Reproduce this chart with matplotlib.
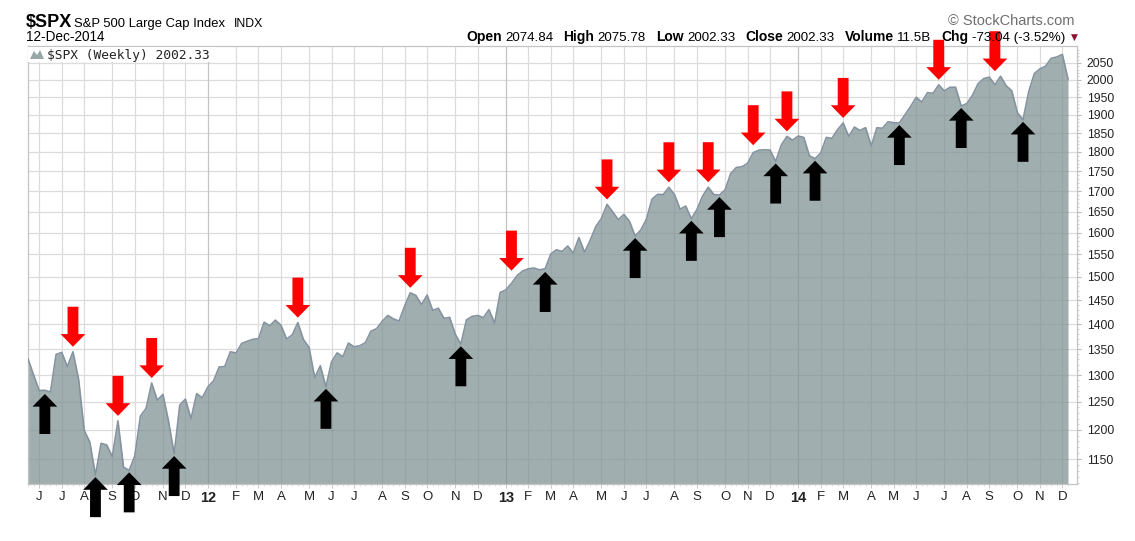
import numpy as np
import pandas as pd
import matplotlib
matplotlib.use('Agg')
import matplotlib.pyplot as plt
from matplotlib import font_manager
from matplotlib.ticker import FixedLocator, NullFormatter
from matplotlib.patches import Polygon, Rectangle

# $SPX weekly closes, 27-May-2011 .. 12-Dec-2014
closes_2011 = [1331.10, 1300.16, 1270.98, 1271.50, 1268.45, 1339.67, 1343.80, 1316.14,
               1345.02, 1292.28, 1199.38, 1178.81, 1123.53, 1176.80, 1173.97, 1154.23,
               1216.01, 1136.43, 1131.42, 1155.46, 1224.58, 1238.25, 1285.09, 1253.23,
               1263.85, 1215.65, 1158.67, 1244.28, 1255.19, 1219.66, 1265.33, 1257.60]
closes_2012 = [1277.81, 1289.09, 1315.38, 1316.33, 1344.90, 1342.64, 1361.23, 1365.74,
               1369.63, 1370.87, 1404.17, 1397.11, 1408.47, 1398.08, 1370.26, 1378.53,
               1403.36, 1369.10, 1353.39, 1295.22, 1317.82, 1278.04, 1325.66, 1342.84,
               1335.02, 1362.16, 1354.68, 1356.78, 1362.66, 1385.97, 1390.99, 1405.87,
               1418.16, 1411.13, 1406.58, 1437.92, 1465.77, 1460.15, 1440.67, 1460.93,
               1428.59, 1433.19, 1411.94, 1414.20, 1379.85, 1359.88, 1409.15, 1416.18,
               1418.07, 1413.58, 1430.15, 1402.43]
closes_2013 = [1466.47, 1472.05, 1485.98, 1502.96, 1513.17, 1517.93, 1519.79, 1515.60,
               1518.20, 1551.18, 1560.70, 1556.89, 1569.19, 1553.28, 1588.85, 1555.25,
               1582.24, 1614.42, 1633.70, 1667.47, 1649.60, 1630.74, 1643.38, 1626.73,
               1592.43, 1606.28, 1631.89, 1680.19, 1692.09, 1691.65, 1709.67, 1691.42,
               1655.83, 1663.50, 1632.97, 1655.17, 1687.99, 1709.91, 1691.75, 1690.50,
               1703.20, 1744.50, 1759.77, 1761.64, 1770.61, 1798.18, 1804.76, 1805.81,
               1805.09, 1775.32, 1818.32, 1841.40]
closes_2014 = [1831.37, 1842.37, 1838.70, 1790.29, 1782.59, 1797.02, 1838.63, 1836.25,
               1859.45, 1878.04, 1841.13, 1866.52, 1857.62, 1865.09, 1815.69, 1864.85,
               1863.40, 1881.14, 1878.48, 1877.86, 1900.53, 1923.57, 1949.44, 1936.16,
               1962.87, 1960.96, 1985.44, 1967.57, 1978.22, 1978.34, 1925.15, 1931.59,
               1955.06, 1988.40, 2003.37, 2007.71, 1985.54, 2010.40, 1982.85, 1967.90,
               1906.13, 1886.76, 1964.58, 2018.05, 2031.92, 2039.82, 2063.50, 2067.56,
               2075.37, 2002.33]

# weeks marked with arrows
red_weeks = ['2011-07-22', '2011-09-16', '2011-10-28', '2012-04-27', '2012-09-14',
             '2013-01-18', '2013-05-17', '2013-08-02', '2013-09-20', '2013-11-15',
             '2013-12-27', '2014-03-07', '2014-07-04', '2014-09-12']
black_weeks = ['2011-06-17', '2011-08-19', '2011-09-30', '2011-11-25', '2012-06-01',
               '2012-11-16', '2013-03-01', '2013-06-21', '2013-08-30', '2013-10-04',
               '2013-12-13', '2014-01-31', '2014-05-16', '2014-08-01', '2014-10-17']

y_ticks = list(range(1150, 2051, 50))
month_letters = ['J', 'F', 'M', 'A', 'M', 'J', 'J', 'A', 'S', 'O', 'N', 'D']
header_labels = ['Open', 'High', 'Low', 'Close', 'Volume', 'Chg']
header_values = ['2074.84', '2075.78', '2002.33', '2002.33', '11.5B', '-73.04 (-3.52%)']

closes = np.array(closes_2011 + closes_2012 + closes_2013 + closes_2014)
weeks = pd.date_range('2011-05-27', periods=len(closes), freq='W-FRI')
x = np.arange(len(closes))

names = {f.name for f in font_manager.fontManager.ttflist}
narrow = 'Liberation Sans Narrow' if 'Liberation Sans Narrow' in names else 'Liberation Sans'
plt.rcParams['font.family'] = ['Liberation Sans', 'DejaVu Sans']

W, H = 1135, 541
fig = plt.figure(figsize=(W / 100, H / 100), dpi=100)
ax = fig.add_axes([28 / W, 1 - 484 / H, (1077 - 28) / W, (484 - 46) / H])

fill_col = (125 / 255, 143 / 255, 145 / 255)
ax.fill_between(x, closes, 1000, color=fill_col, alpha=0.72, lw=0, zorder=2)
ax.plot(x, closes, color='#8593a0', lw=1.2, zorder=3)

ax.set_yscale('log')
ax.set_ylim(1109, 2101)
ax.set_xlim(0.5, len(closes) + 0.6)

# y axis on the right
ax.yaxis.set_major_locator(FixedLocator(y_ticks))
ax.yaxis.set_major_formatter(plt.FixedFormatter([str(v) for v in y_ticks]))
ax.yaxis.set_minor_locator(FixedLocator([v for v in range(1110, 2101, 10) if v % 50]))
ax.yaxis.set_minor_formatter(NullFormatter())
ax.yaxis.tick_right()
ax.tick_params(axis='y', which='major', length=3, width=0.8, color='#b8b8b8',
               labelsize=8.7, labelcolor='#222222', pad=4)
ax.tick_params(axis='y', which='minor', length=1.5, width=0.6, color='#c8c8c8')

# month ticks: first week whose Monday falls in the new month
mondays = weeks - pd.Timedelta(days=4)
tick_idx = [i for i in range(1, len(weeks)) if mondays[i].month != mondays[i - 1].month]
tick_lbl = []
for i in tick_idx:
    m = mondays[i].month
    tick_lbl.append('%02d' % (mondays[i].year % 100) if m == 1 else month_letters[m - 1])
ax.set_xticks(tick_idx)
ax.set_xticklabels(tick_lbl, family=narrow, fontsize=9.5, color='#222222')
for lbl in ax.get_xticklabels():
    if lbl.get_text().isdigit():
        lbl.set_fontweight('bold')
        lbl.set_fontsize(10.5)
ax.set_xticks(x, minor=True)
ax.tick_params(axis='x', which='major', length=3, width=0.6, color='#c0c0c0', pad=2)
ax.tick_params(axis='x', which='minor', length=1.5, width=0.5, color='#d0d0d0')

# grid
for v in y_ticks:
    ax.axhline(v, color='#dcdcdc', lw=0.9, zorder=1)
for i, t in zip(tick_idx, tick_lbl):
    ax.axvline(i, color='#c4c4c4' if t.isdigit() else '#dcdcdc', lw=0.9, zorder=1)

for s in ax.spines.values():
    s.set_color('#c4c4c4')
    s.set_linewidth(0.9)

# arrows
L, gap_r, gap_b = 28.8, 3.6, 1.5
style = 'simple,head_length=9.1,head_width=17.8,tail_width=7.8'
pos = {d: i for i, d in enumerate(weeks.strftime('%Y-%m-%d'))}
for d in red_weeks:
    i = pos[d]
    tip = closes[i - 1:i + 2].max()
    ax.annotate('', xy=(i, tip), xytext=(0, L + gap_r), textcoords='offset points',
                annotation_clip=False, zorder=6,
                arrowprops=dict(arrowstyle=style, mutation_scale=1, fc='#ff0000',
                                ec='none', lw=0, shrinkA=0, shrinkB=gap_r))
for d in black_weeks:
    i = pos[d]
    tip = closes[i - 1:i + 2].min()
    ax.annotate('', xy=(i, tip), xytext=(0, -(L + gap_b)), textcoords='offset points',
                annotation_clip=False, zorder=6,
                arrowprops=dict(arrowstyle=style, mutation_scale=1, fc='#000000',
                                ec='none', lw=0, shrinkA=0, shrinkB=gap_b))

# legend box inside the plot
ax.add_patch(Rectangle((28 / W, 1 - 62 / H), (215 - 28) / W, 15 / H, transform=fig.transFigure,
                       fc='white', ec='none', zorder=4))
fig.patches.append(Polygon([(30 / W, 1 - 59 / H), (34 / W, 1 - 51 / H), (37 / W, 1 - 55 / H),
                            (40 / W, 1 - 50 / H), (44 / W, 1 - 59 / H)],
                           closed=True, transform=fig.transFigure, fc='#98a6a8', ec='none'))
fig.text(47 / W, 1 - 55 / H, '$SPX (Weekly) 2002.33', family='DejaVu Sans Mono',
         fontsize=9.3, va='center', ha='left', color='#222222')

# header
fig.text(26 / W, 1 - 27 / H, '$SPX', fontsize=13, weight='bold', va='baseline')
fig.text(74 / W, 1 - 27 / H, 'S&P 500 Large Cap Index', fontsize=9.4, va='baseline')
fig.text(234 / W, 1 - 27 / H, 'INDX', fontsize=8.8, va='baseline')
fig.text(26 / W, 1 - 41 / H, '12-Dec-2014', fontsize=9.8, va='baseline')
fig.text(1075 / W, 1 - 25 / H, '\u00a9 StockCharts.com', fontsize=10.5, va='baseline',
         ha='right', color='#6e6e6e')

fig.canvas.draw()
r = fig.canvas.get_renderer()
xp = 466
for lab, val in zip(header_labels, header_values):
    t = fig.text(xp / W, 1 - 41 / H, lab, fontsize=10, weight='bold', va='baseline')
    xp = t.get_window_extent(r).x1 + 3.5
    t = fig.text(xp / W, 1 - 41 / H, val, fontsize=9.6, va='baseline')
    xp = t.get_window_extent(r).x1 + 10
fig.text((xp - 5) / W, 1 - 40 / H, '\u25bc', family='DejaVu Sans', fontsize=6.5,
         va='baseline', color='#8b1030')

fig.savefig('out.png', dpi=100, facecolor='white')
